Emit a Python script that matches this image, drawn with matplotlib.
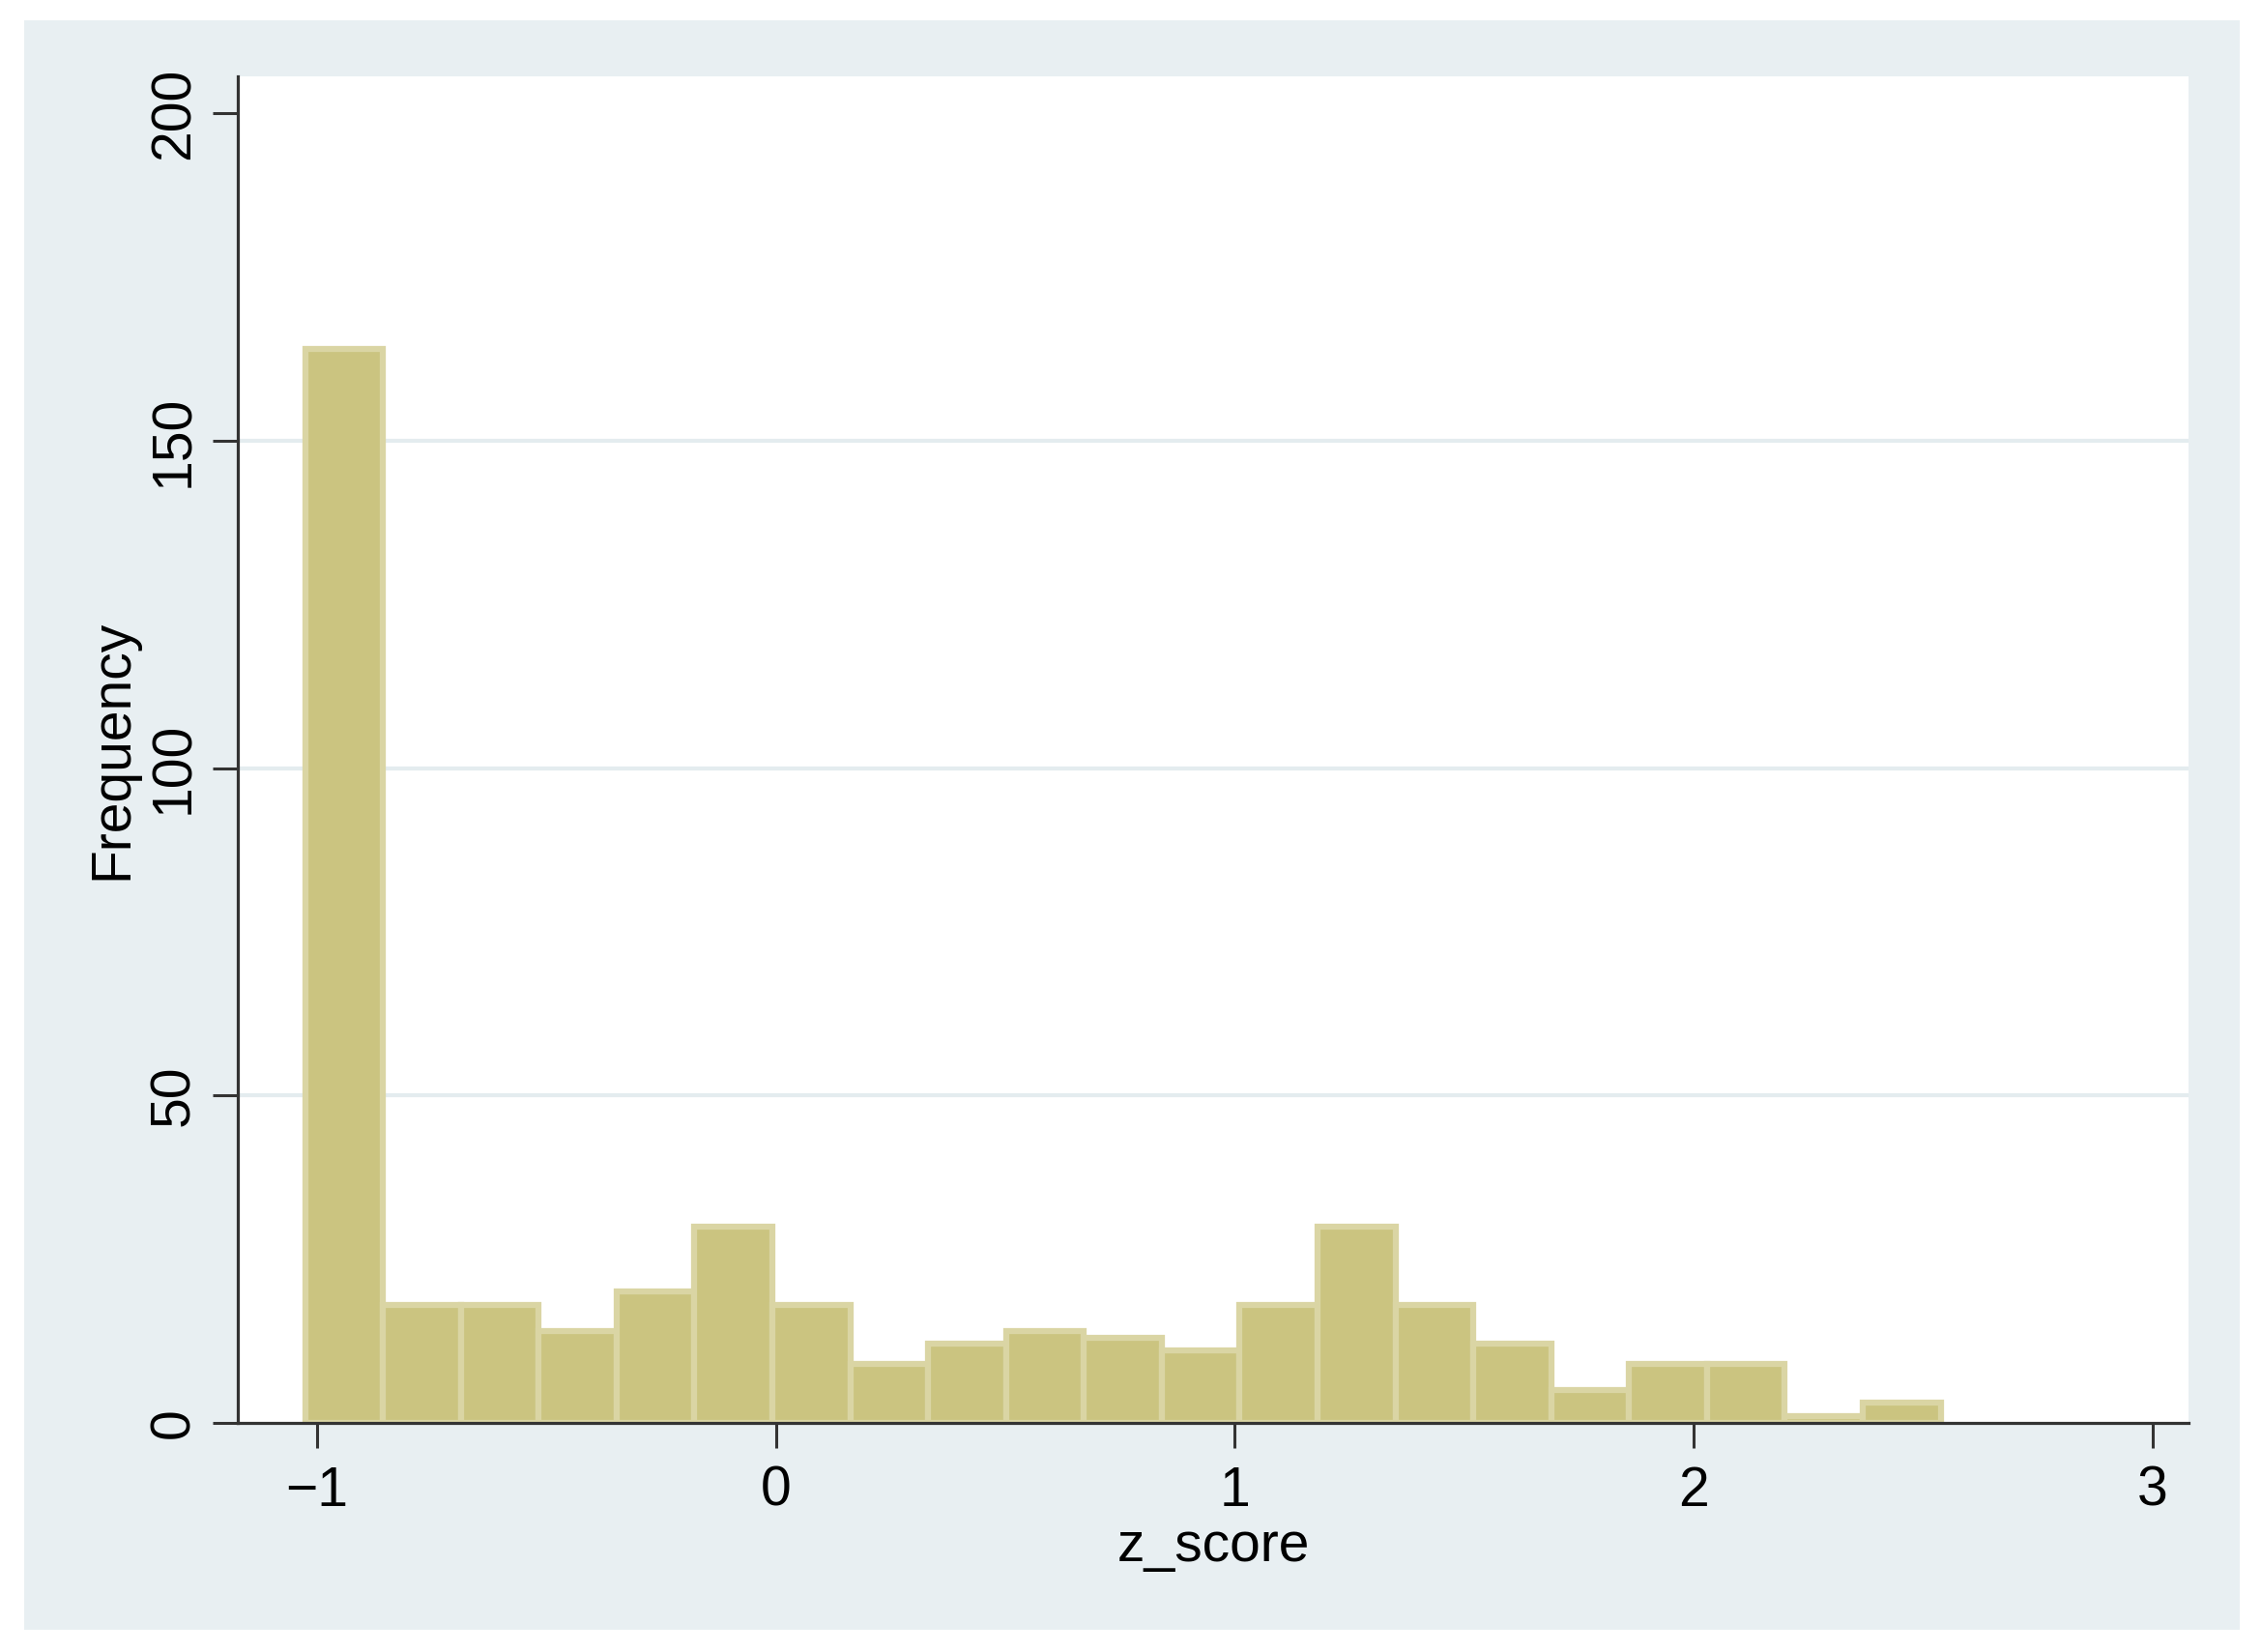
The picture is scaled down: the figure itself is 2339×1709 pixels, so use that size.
import matplotlib
matplotlib.use("Agg")
import matplotlib.pyplot as plt
from matplotlib.patches import Rectangle

# histogram of z_score, 21 bins (Stata style)
BIN_START = -1.026
BIN_WIDTH = 0.1697
COUNTS = [164, 18, 18, 14, 20, 30, 18, 9, 12, 14, 13, 11,
          18, 30, 18, 12, 5, 9, 9, 1, 3]
X_TICKS = [-1, 0, 1, 2, 3]
X_TICK_LABELS = ["\u22121", "0", "1", "2", "3"]
Y_TICKS = [0, 50, 100, 150, 200]
Y_GRID = [50, 100, 150]

# colour codes:
BAR_FILL = '#cbc480'
BAR_EDGE = '#dad5a4'
OUTER_BG = '#e8eff2'
GRID = '#e4ecef'
AXIS = '#333333'

FONT = 41

plt.rcParams['font.family'] = ['Liberation Sans', 'DejaVu Sans']

fig = plt.figure(figsize=(23.39, 17.09), dpi=100)
fig.patch.set_facecolor('white')

# light bluish graph region behind the plot
fig.patches.append(Rectangle((0.0107, 0.0135), 0.9799, 0.9742, transform=fig.transFigure,
                             facecolor=OUTER_BG, edgecolor='none', zorder=-10))

ax = fig.add_axes([0.10517, 0.13885, 0.86277, 0.81492])
ax.set_zorder(5)
ax.set_facecolor('white')

lefts = [BIN_START + i * BIN_WIDTH for i in range(len(COUNTS))]
ax.bar(lefts, COUNTS, width=BIN_WIDTH, align='edge', color=BAR_FILL,
       edgecolor=BAR_EDGE, linewidth=4.5, zorder=2)

for g in Y_GRID:
    ax.axhline(g, color=GRID, linewidth=3, zorder=1)

ax.set_xlim(-1.1727, 3.078)
ax.set_ylim(0, 205.66)

ax.spines['top'].set_visible(False)
ax.spines['right'].set_visible(False)
for s in ['left', 'bottom']:
    ax.spines[s].set_color(AXIS)
    ax.spines[s].set_linewidth(2.3)
    ax.spines[s].set_zorder(3)

ax.set_xticks(X_TICKS)
ax.set_xticklabels(X_TICK_LABELS, fontsize=FONT)
ax.set_yticks(Y_TICKS)
ax.set_yticklabels([str(v) for v in Y_TICKS], fontsize=FONT, rotation=90, va='center')
ax.tick_params(axis='both', length=18.7, width=2.2, color=AXIS, direction='out')
ax.tick_params(axis='x', pad=13)
ax.tick_params(axis='y', pad=9)

ax.set_xlabel("z_score", fontsize=FONT)
ax.set_ylabel("Frequency", fontsize=FONT)
ax.xaxis.set_label_coords(0.5, -0.0727)
ax.yaxis.set_label_coords(-0.051, 0.5)

fig.savefig("out.png", dpi=100, facecolor=fig.get_facecolor())
